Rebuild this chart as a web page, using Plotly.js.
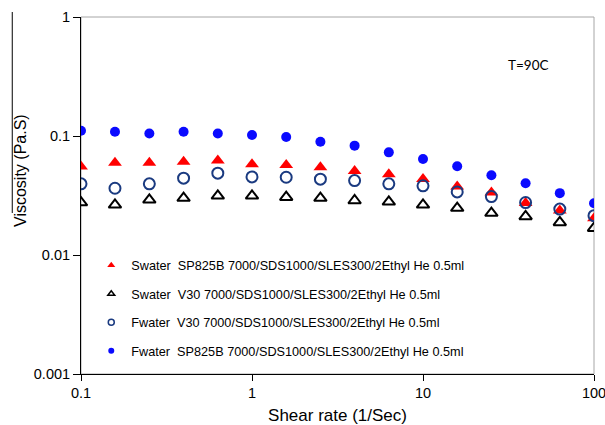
<!DOCTYPE html>
<html>
<head>
<meta charset="utf-8">
<script src="https://cdn.plot.ly/plotly-3.0.1.min.js"></script>
<style>
  html, body { margin: 0; padding: 0; background: #fff; }
  #chart { width: 605px; height: 425px; }
</style>
</head>
<body>
<div id="chart"></div>
<script>
// Shear rates (1/Sec), five points per decade
const shearRate = [0.1, 0.158, 0.251, 0.398, 0.631, 1, 1.585, 2.512, 3.981, 6.31, 10, 15.85, 25.12, 39.81, 63.1, 100];

// Viscosity (Pa.S) for each sample at T=90C
const swaterSP825B = [0.0553, 0.0597, 0.0597, 0.0609, 0.0621, 0.0579, 0.0571, 0.0547, 0.0509, 0.0478, 0.0436, 0.0376, 0.0335, 0.0273, 0.0237, 0.0204];
const swaterV30    = [0.0276, 0.0264, 0.0291, 0.0301, 0.0314, 0.0314, 0.0306, 0.0301, 0.0287, 0.0280, 0.0264, 0.0248, 0.0225, 0.0211, 0.0188, 0.0168];
const fwaterV30    = [0.0396, 0.0364, 0.0396, 0.0442, 0.0487, 0.0453, 0.0450, 0.0434, 0.0422, 0.0396, 0.0381, 0.0339, 0.0310, 0.0276, 0.0243, 0.0214];
const fwaterSP825B = [0.1108, 0.1087, 0.1050, 0.1087, 0.1050, 0.1020, 0.0980, 0.0896, 0.0830, 0.0729, 0.0641, 0.0557, 0.0468, 0.0401, 0.0331, 0.0272];

const seriesNames = [
  'Swater\u00a0\u00a0SP825B 7000/SDS1000/SLES300/2Ethyl He 0.5ml',
  'Swater\u00a0\u00a0V30 7000/SDS1000/SLES300/2Ethyl He 0.5ml',
  'Fwater\u00a0\u00a0V30 7000/SDS1000/SLES300/2Ethyl He 0.5ml',
  'Fwater\u00a0\u00a0SP825B 7000/SDS1000/SLES300/2Ethyl He 0.5ml'
];
const seriesValues = [swaterSP825B, swaterV30, fwaterV30, fwaterSP825B];

const markerStyles = [
  { symbol: 'triangle-up', color: '#ff0000', size: 12, line: { width: 0 } },
  { symbol: 'triangle-up-open', color: '#000000', size: 11, line: { width: 2, color: '#000000' } },
  { symbol: 'circle-open', color: '#1a3a80', size: 11, line: { width: 2, color: '#1a3a80' } },
  { symbol: 'circle', color: '#0a0aff', size: 10, line: { width: 0 } }
];
const legendMarkers = [
  { symbol: 'triangle-up', color: '#ff0000', size: 7, line: { width: 0 } },
  { symbol: 'triangle-up-open', color: '#000000', size: 6, line: { width: 1.5, color: '#000000' } },
  { symbol: 'circle-open', color: '#1a3a80', size: 6, line: { width: 1.5, color: '#1a3a80' } },
  { symbol: 'circle', color: '#0a0aff', size: 6, line: { width: 0 } }
];

const traces = [];
seriesValues.forEach((vals, i) => {
  traces.push({
    x: shearRate, y: vals, type: 'scatter', mode: 'markers',
    name: seriesNames[i], marker: markerStyles[i], showlegend: false,
    hoverinfo: 'x+y'
  });
});
// Legend entries with smaller symbols
seriesNames.forEach((nm, i) => {
  traces.push({
    x: [null], y: [null], type: 'scatter', mode: 'markers',
    name: nm, marker: legendMarkers[i], legendgroup: 'g' + i, showlegend: true
  });
});

const axisFont = { family: 'Liberation Sans, Arial, sans-serif', size: 14.5, color: '#000' };

const layout = {
  width: 605, height: 425,
  margin: { l: 81, r: 11, t: 17, b: 51 },
  paper_bgcolor: '#fff', plot_bgcolor: '#fff',
  showlegend: true,
  xaxis: {
    type: 'log', range: [-1, 2],
    tickvals: [0.1, 1, 10, 100], ticktext: ['0.1', '1', '10', '100'],
    ticklabeloverflow: 'allow',
    showgrid: false, zeroline: false,
    showline: true, linecolor: '#000', linewidth: 1,
    ticks: 'outside', ticklen: 6, tickcolor: '#000', tickwidth: 1,
    tickfont: axisFont,
    title: { text: 'Shear rate (1/Sec)', font: { family: 'Liberation Sans, Arial, sans-serif', size: 17, color: '#000' }, standoff: 8 }
  },
  yaxis: {
    type: 'log', range: [-3, 0],
    tickvals: [0.001, 0.01, 0.1, 1], ticktext: ['0.001', '0.01', '0.1', '1'],
    showgrid: false, zeroline: false,
    showline: true, linecolor: '#000', linewidth: 1,
    ticks: 'outside', ticklen: 7, tickcolor: '#000', tickwidth: 1,
    tickfont: axisFont
  },
  legend: {
    x: 0.02, xanchor: 'left', y: 0.346, yanchor: 'top',
    bgcolor: 'rgba(0,0,0,0)', borderwidth: 0,
    font: { family: 'Liberation Sans, Arial, sans-serif', size: 12.7, color: '#000' },
    traceorder: 'grouped', tracegroupgap: 9
  },
  shapes: [
    { type: 'rect', xref: 'paper', yref: 'paper', x0: 0, x1: 1, y0: 0, y1: 1,
      line: { color: '#a6a6a6', width: 1 }, layer: 'below' },
    { type: 'line', xref: 'paper', yref: 'paper', x0: -0.134, x1: -0.134, y0: 1.014, y1: 0.451,
      line: { color: '#000', width: 1 } }
  ],
  annotations: [
    { text: 'Viscosity (Pa.S)', xref: 'paper', yref: 'paper', x: -0.118, y: 0.57,
      xanchor: 'center', yanchor: 'middle', textangle: -90, showarrow: false,
      font: { family: 'Liberation Sans, Arial, sans-serif', size: 16, color: '#000' } },
    { text: 'T=90C', xref: 'paper', yref: 'paper', x: 0.871, y: 0.865,
      xanchor: 'center', yanchor: 'middle', showarrow: false,
      font: { family: 'Lato, Open Sans, sans-serif', size: 13.5, color: '#000' } }
  ]
};

Plotly.newPlot('chart', traces, layout, { displayModeBar: false, staticPlot: true });
</script>
</body>
</html>
